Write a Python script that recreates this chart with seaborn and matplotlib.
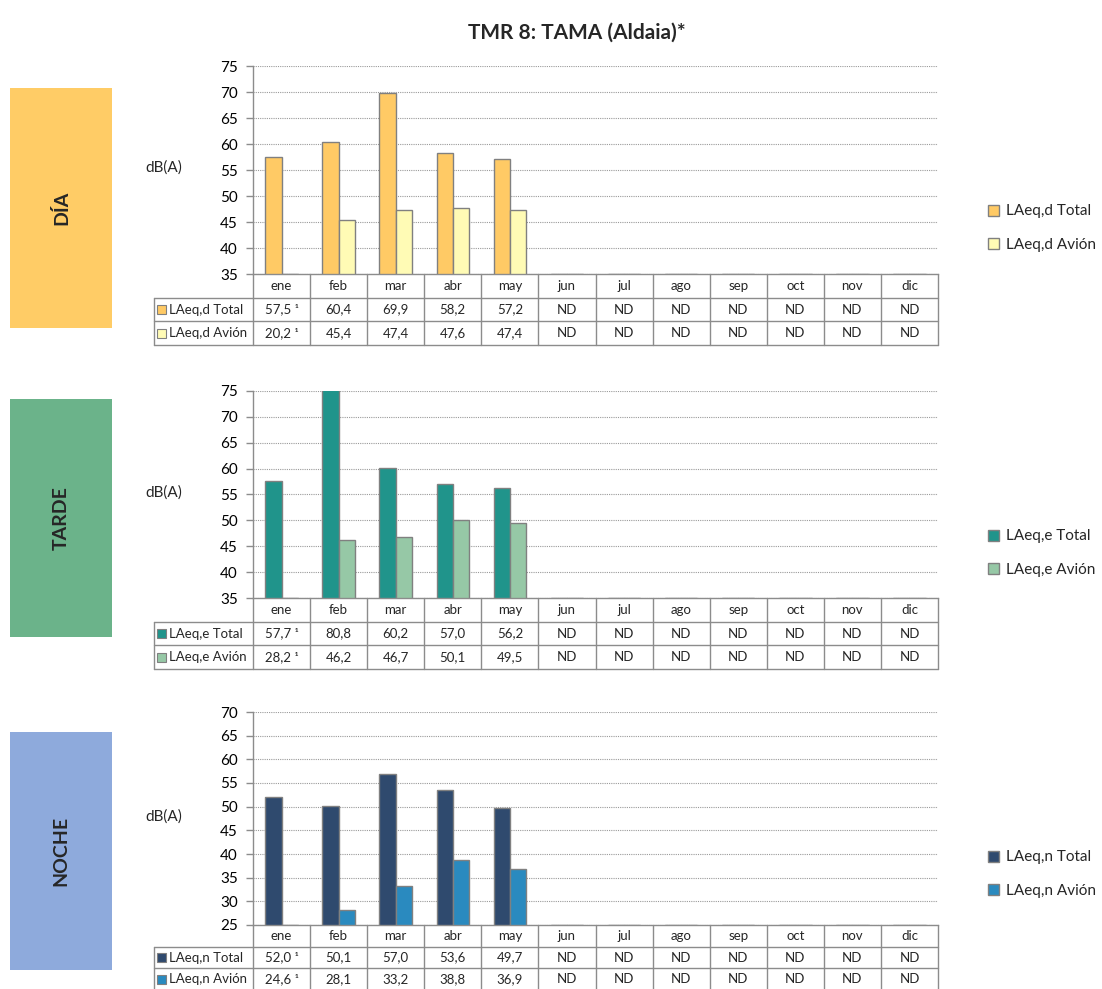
import numpy as np
import pandas as pd
import matplotlib
matplotlib.use("Agg")
import matplotlib.pyplot as plt
from matplotlib.patches import Rectangle, Patch
import seaborn as sns

# datos (ND = sin dato)
nd = np.nan
meses = ['ene', 'feb', 'mar', 'abr', 'may', 'jun', 'jul', 'ago', 'sep', 'oct', 'nov', 'dic']
nota = ['¹', '', '', '', '', '', '', '', '', '', '', '']

dia_total = [57.5, 60.4, 69.9, 58.2, 57.2, nd, nd, nd, nd, nd, nd, nd]
dia_avion = [20.2, 45.4, 47.4, 47.6, 47.4, nd, nd, nd, nd, nd, nd, nd]
tarde_total = [57.7, 80.8, 60.2, 57.0, 56.2, nd, nd, nd, nd, nd, nd, nd]
tarde_avion = [28.2, 46.2, 46.7, 50.1, 49.5, nd, nd, nd, nd, nd, nd, nd]
noche_total = [52.0, 50.1, 57.0, 53.6, 49.7, nd, nd, nd, nd, nd, nd, nd]
noche_avion = [24.6, 28.1, 33.2, 38.8, 36.9, nd, nd, nd, nd, nd, nd, nd]

sns.set_theme(style="white")
plt.rcParams['font.family'] = ['Lato', 'DejaVu Sans']

W, H = 1102, 989
fig = plt.figure(figsize=(W / 100, H / 100), dpi=100)


def fbox(x0, y0, x1, y1):
    return [x0 / W, 1 - y1 / H, (x1 - x0) / W, (y1 - y0) / H]


GRIS = '#8c8c8c'
paneles = [
    dict(nombre='DÍA', caja='#FFCC66', series=['LAeq,d Total', 'LAeq,d Avión'],
         valores=[dia_total, dia_avion], colores=['#FFCA65', '#FFFBB5'],
         ylim=(35, 75), top=66, bot=274, tbot=345, box=(88, 328), leg=228),
    dict(nombre='TARDE', caja='#6BB38A', series=['LAeq,e Total', 'LAeq,e Avión'],
         valores=[tarde_total, tarde_avion], colores=['#20948B', '#96C8A6'],
         ylim=(35, 75), top=391, bot=598, tbot=669, box=(399, 637), leg=553),
    dict(nombre='NOCHE', caja='#8EAADC', series=['LAeq,n Total', 'LAeq,n Avión'],
         valores=[noche_total, noche_avion], colores=['#2F4A6E', '#2A8ABF'],
         ylim=(25, 70), top=712, bot=925, tbot=990, box=(732, 970), leg=874),
]

X0, X1 = 253, 938
px = 12 / (X1 - X0)
xl = -0.5 - (X0 - 154) * px

for p in paneles:
    ymin, ymax = p['ylim']
    ax = fig.add_axes(fbox(X0, p['top'], X1, p['bot']))
    df = pd.DataFrame({
        'mes': meses * 2,
        'serie': [p['series'][0]] * 12 + [p['series'][1]] * 12,
        'valor': np.concatenate(p['valores']),
    })
    # como en Excel: lo que queda por debajo del eje se ve como raya en la base
    df['alto'] = np.maximum(df['valor'].fillna(0), ymin)
    sns.barplot(data=df, x='mes', y='alto', hue='serie', palette=p['colores'],
                width=0.57, saturation=1, edgecolor='#808080', linewidth=1,
                legend=False, ax=ax)
    ax.set_xlim(-0.5, 11.5)
    ax.set_ylim(ymin, ymax)
    ax.set_yticks(range(ymin, ymax + 1, 5))
    ax.set_xticks([])
    ax.set_xlabel('')
    ax.set_ylabel('')
    ax.yaxis.grid(True, linestyle=(0, (1, 1)), color='#9a9a9a', lw=0.8)
    ax.set_axisbelow(True)
    for s in ['top', 'right']:
        ax.spines[s].set_visible(False)
    for s in ['left', 'bottom']:
        ax.spines[s].set_color(GRIS)
        ax.spines[s].set_linewidth(1)
    ax.tick_params(axis='y', left=True, length=5, width=1, color=GRIS,
                   labelsize=11, pad=6, labelcolor='black')

    # tabla de datos bajo el grafico
    tab = fig.add_axes(fbox(X0, p['bot'], X1, p['tbot']))
    tab.set_xlim(-0.5, 11.5)
    tab.set_ylim(3, 0)
    tab.axis('off')
    for y in [1, 2, 3]:
        tab.plot([xl, 11.5], [y, y], color=GRIS, lw=1, clip_on=False)
    for k in range(13):
        tab.plot([k - 0.5, k - 0.5], [0, 3], color=GRIS, lw=1, clip_on=False)
    tab.plot([xl, xl], [1, 3], color=GRIS, lw=1, clip_on=False)
    for i, m in enumerate(meses):
        tab.text(i, 0.5, m, ha='center', va='center', fontsize=9.5)
    alto_fila = (p['tbot'] - p['bot']) / 3
    for r, (serie, vals, col) in enumerate(zip(p['series'], p['valores'], p['colores'])):
        yc = r + 1.5
        h = 9 / alto_fila
        tab.add_patch(Rectangle((xl + 3 * px, yc - h / 2), 9 * px, h, facecolor=col,
                                edgecolor='#808080', lw=0.8, clip_on=False))
        tab.text(xl + 15 * px, yc, serie, ha='left', va='center', fontsize=9.5)
        for i, v in enumerate(vals):
            if np.isnan(v):
                txt = 'ND'
            else:
                txt = f"{v:.1f}".replace('.', ',')
                if nota[i]:
                    txt += ' ' + nota[i]
            tab.text(i, yc, txt, ha='center', va='center', fontsize=9.5)

    # caja lateral con el periodo
    b0, b1 = p['box']
    fig.add_artist(Rectangle((10 / W, 1 - b1 / H), 102 / W, (b1 - b0) / H,
                             transform=fig.transFigure, facecolor=p['caja'], edgecolor='none'))
    fig.text(61 / W, 1 - (b0 + b1) / 2 / H, p['nombre'], rotation=90, ha='center',
             va='center', fontsize=14, fontweight='bold')
    fig.text(145 / W, 1 - ((p['top'] + p['bot']) / 2 - 2) / H, 'dB(A)', ha='left',
             va='center', fontsize=11)

    handles = [Patch(facecolor=c, edgecolor='#808080', label=s)
               for s, c in zip(p['series'], p['colores'])]
    fig.legend(handles=handles, loc='center left', bbox_to_anchor=(988 / W, 1 - p['leg'] / H),
               frameon=False, fontsize=11, handlelength=0.75, handleheight=0.75,
               handletextpad=0.45, labelspacing=1.25, borderaxespad=0, borderpad=0)

fig.text(577 / W, 1 - 33 / H, 'TMR 8: TAMA (Aldaia)*', ha='center', va='center',
         fontsize=15, fontweight='bold')

fig.savefig('out.png', dpi=100)
